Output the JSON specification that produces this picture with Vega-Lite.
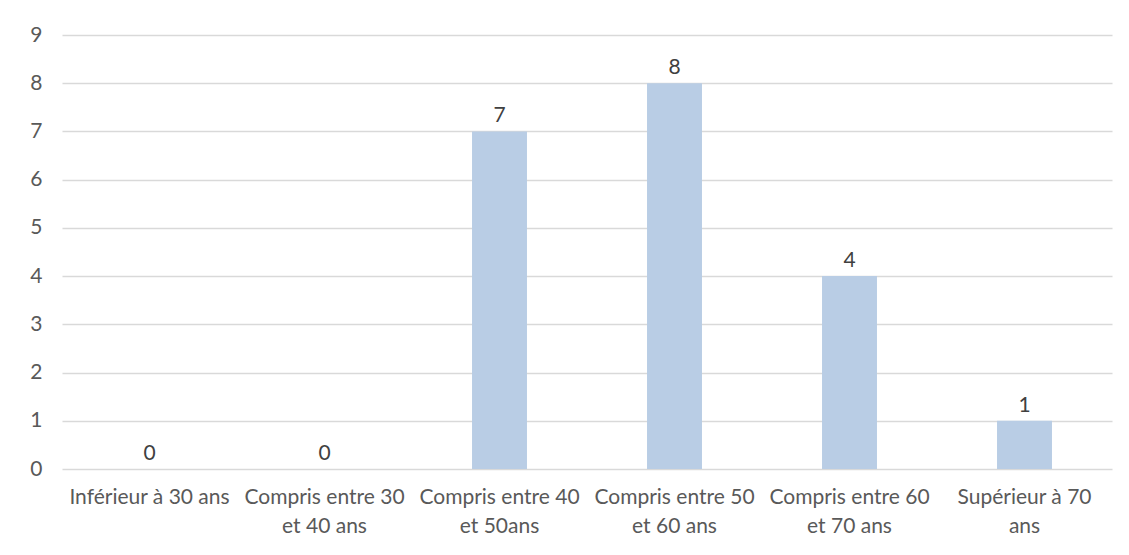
{
  "$schema": "https://vega.github.io/schema/vega-lite/v6.json",
  "width": 1050,
  "height": 434,
  "autosize": {"type": "none"},
  "padding": {"left": 62, "top": 35, "right": 17, "bottom": 86},
  "background": "white",
  "config": {
    "view": {"stroke": null},
    "font": "Lato",
    "axis": {"labelColor": "#595959", "labelFont": "Lato", "labelFontSize": 21}
  },
  "data": {
    "values": [
      {"categorie": "Inférieur à 30 ans", "nombre": 0},
      {"categorie": "Compris entre 30|et 40 ans", "nombre": 0},
      {"categorie": "Compris entre 40|et 50ans", "nombre": 7},
      {"categorie": "Compris entre 50|et 60 ans", "nombre": 8},
      {"categorie": "Compris entre 60|et 70 ans", "nombre": 4},
      {"categorie": "Supérieur à 70|ans", "nombre": 1}
    ]
  },
  "encoding": {
    "x": {
      "field": "categorie",
      "type": "nominal",
      "sort": null,
      "scale": {"paddingInner": 0.686, "paddingOuter": 0.343},
      "axis": {
        "title": null,
        "labelAngle": 0,
        "labelExpr": "split(datum.label, '|')",
        "labelLineHeight": 29,
        "labelPadding": 17,
        "ticks": false,
        "domain": false,
        "labelBaseline": "top",
        "labelFontSize": 21
      }
    },
    "y": {
      "field": "nombre",
      "type": "quantitative",
      "scale": {"domain": [0, 9], "nice": false},
      "axis": {
        "title": null,
        "values": [0, 1, 2, 3, 4, 5, 6, 7, 8, 9],
        "labelOverlap": false,
        "grid": true,
        "gridColor": "#D9D9D9",
        "gridWidth": 1.3,
        "domain": false,
        "ticks": false,
        "labelPadding": 20,
        "labelFontSize": 21
      }
    }
  },
  "layer": [
    {"mark": {"type": "bar", "color": "#B9CDE5"}},
    {
      "mark": {"type": "text", "baseline": "alphabetic", "dy": -9, "fontSize": 21, "color": "#404040", "font": "Lato"},
      "encoding": {"text": {"field": "nombre", "type": "quantitative"}}
    }
  ]
}
